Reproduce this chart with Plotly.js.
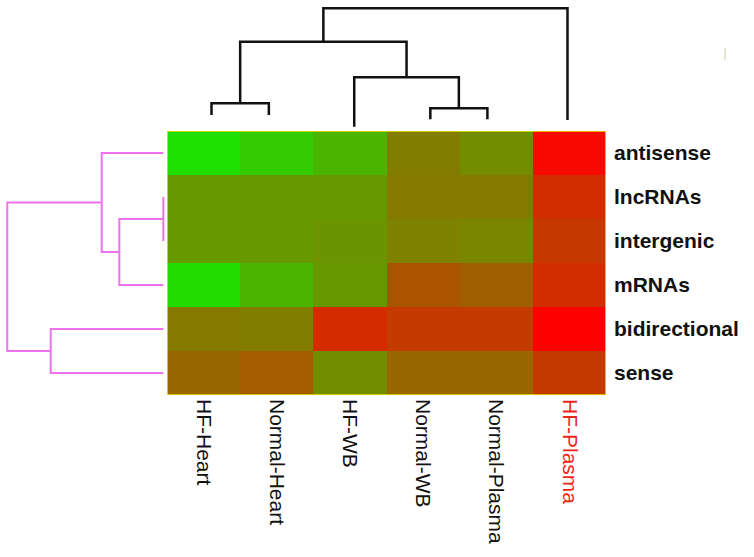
<!DOCTYPE html>
<html><head><meta charset="utf-8">
<script src="https://cdn.plot.ly/plotly-3.0.1.min.js"></script>
<style>html,body{margin:0;padding:0;background:#fff}#chart{width:754px;height:557px}</style>
</head><body><div id="chart"></div>
<script>
// Columns (samples) and rows (RNA types)
const samples = ['HF-Heart', 'Normal-Heart', 'HF-WB', 'Normal-WB', 'Normal-Plasma', 'HF-Plasma'];
const rnaTypes = ['antisense', 'lncRNAs', 'intergenic', 'mRNAs', 'bidirectional', 'sense'];

// Relative expression (0 = green, 1 = red), one array per row
const antisense     = [0.12, 0.20, 0.29, 0.51, 0.45, 0.97];
const lncRNAs       = [0.40, 0.40, 0.40, 0.52, 0.52, 0.82];
const intergenic    = [0.40, 0.40, 0.42, 0.49, 0.48, 0.78];
const mRNAs         = [0.13, 0.29, 0.40, 0.67, 0.63, 0.82];
const bidirectional = [0.52, 0.51, 0.83, 0.77, 0.77, 1.00];
const sense         = [0.60, 0.64, 0.45, 0.60, 0.60, 0.77];

// Column dendrogram: leaf positions (in column units), leaf tip heights, merges [nodeA, nodeB, height]
const colLeafPos = [0.108, 0.892, 2.059, 3.099, 3.879, 4.974];
const colLeafTip = [1.6, 1.6, 0.43, 1.17, 1.17, 1.1];
const colMerges  = [[0, 1, 2.77], [3, 4, 2.27], [2, 7, 5.37], [6, 8, 8.93], [9, 5, 12.27]];

// Row dendrogram: leaves are the rows; merges [nodeA, nodeB, distance]
const rowLeafTip = [0, 0, 0, 0, 0, 0];
const rowMerges  = [[1, 2, 0], [6, 3, 4.4], [0, 7, 6.16], [4, 5, 11.26], [8, 9, 15.6]];

function buildDendro(leafPos, leafTip, merges) {
  const pos = leafPos.slice(), hgt = leafTip.slice();
  const P = [], H = [];
  merges.forEach(([a, b, h]) => {
    P.push(pos[a], pos[a], pos[b], pos[b], null);
    H.push(hgt[a], h, h, hgt[b], null);
    pos.push((pos[a] + pos[b]) / 2);
    hgt.push(h);
  });
  return {P, H};
}

const zData = [antisense, lncRNAs, intergenic, mRNAs, bidirectional, sense];
const colIdx = samples.map((_, i) => i);
const rowIdx = rnaTypes.map((_, i) => i);
const colTick = samples.map(s => s === 'HF-Plasma' ? '<span style="color:#f02418">' + s + '</span>' : s);

const colDendro = buildDendro(colLeafPos, colLeafTip, colMerges);
const rowDendro = buildDendro(rowIdx, rowLeafTip, rowMerges);

const traces = [
  {type: 'heatmap', z: zData, x: colIdx, y: rowIdx, xaxis: 'x', yaxis: 'y',
   colorscale: [[0, 'rgb(0,255,0)'], [1, 'rgb(255,0,0)']], zmin: 0, zmax: 1,
   showscale: false, hoverinfo: 'skip'},
  {type: 'scatter', mode: 'lines', x: colDendro.P, y: colDendro.H, xaxis: 'x', yaxis: 'y2',
   line: {color: '#111', width: 2.5}, hoverinfo: 'skip', showlegend: false, cliponaxis: false},
  {type: 'scatter', mode: 'lines', x: rowDendro.H, y: rowDendro.P, xaxis: 'x3', yaxis: 'y',
   line: {color: '#ee72ee', width: 2}, hoverinfo: 'skip', showlegend: false, cliponaxis: false}
];

const fontFam = 'Liberation Sans, Arial, sans-serif';
const layout = {
  width: 754, height: 557,
  margin: {l: 0, r: 0, t: 0, b: 0},
  paper_bgcolor: '#fff', plot_bgcolor: 'rgba(0,0,0,0)',
  showlegend: false,
  font: {family: fontFam, color: '#111'},
  xaxis: {domain: [0.2215, 0.8037], range: [-0.5, 5.5], anchor: 'y',
          tickvals: colIdx, ticktext: colTick, tickangle: 90, ticks: '',
          tickfont: {size: 21, family: fontFam, color: '#111'},
          showgrid: false, zeroline: false, showline: false, ticklabelstandoff: 3},
  yaxis: {domain: [0.2908, 0.7648], range: [5.5, -0.5], anchor: 'x', side: 'right',
          tickvals: rowIdx, ticktext: rnaTypes, ticks: '',
          tickfont: {size: 21, family: fontFam, color: '#111', weight: 'bold'},
          showgrid: false, zeroline: false, showline: false, ticklabelstandoff: 7},
  yaxis2: {domain: [0.7648, 1], range: [0, 13.1], anchor: 'x', visible: false},
  xaxis3: {domain: [0, 0.2215], range: [16.33, -0.37], anchor: 'y', visible: false},
  shapes: [
    {type: 'rect', xref: 'x', yref: 'y', x0: -0.5, x1: 5.5, y0: -0.5, y1: 5.5,
     line: {color: '#f5e400', width: 1.5}},
    {type: 'line', xref: 'paper', yref: 'paper', x0: 0.9615, x1: 0.9615, y0: 0.8923, y1: 0.9138,
     line: {color: '#e4e4d4', width: 2}}
  ]
};

Plotly.newPlot('chart', traces, layout, {staticPlot: true, displayModeBar: false});
</script>
</body></html>
